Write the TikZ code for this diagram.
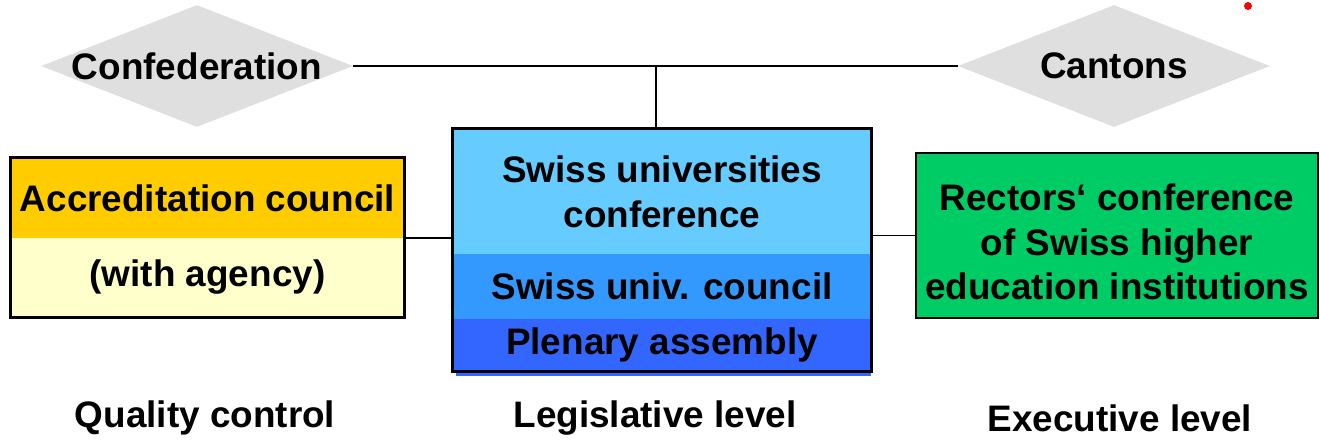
\documentclass[tikz,border=0pt]{standalone}
\usepackage{fontspec}
\setmainfont{Liberation Sans}
\usepackage{tikz}
\usetikzlibrary{shapes,positioning}

\definecolor{LandGray}{HTML}{DFDFDF}
\definecolor{AccrTop}{HTML}{FFCC00}
\definecolor{AccrLow}{HTML}{FFFFCC}
\definecolor{SukTop}{HTML}{66CCFF}
\definecolor{SukMid}{HTML}{3399FF}
\definecolor{SukLow}{HTML}{3366FF}
\definecolor{CrusGreen}{HTML}{00CC66}

\begin{document}
\begin{tikzpicture}[x=0.02cm, y=-0.02cm, font=\bfseries\fontsize{21}{25.5}\selectfont]
			\tikzstyle{Level}	= [diamond, fill=LandGray, inner sep=0pt, minimum width=6.24cm, minimum height=2.44cm]
			\tikzstyle{Band}	= [rectangle, inner sep=0pt, align=center]
			\tikzstyle{Frame}	= [draw=black, line width=1.6pt]
			\tikzstyle{Link}	= [black, line width=1pt]
			
			\useasboundingbox (0,0) rectangle (1320,440);
			
			\node (confed) at (197,66) [Level] {};
			\node (confedText) at (confed) {Confederation};
			\node (cantons) at (1114,66) [Level] {};
			\node (cantonsText) at (cantons) {Cantons};
			\node (dot) at (1248,6) [circle, fill=red, inner sep=0pt, minimum size=0.16cm] {};
			
			\node (accr) at (207.5,198) [Band, fill=AccrTop, minimum width=7.86cm, minimum height=1.6cm] {Accreditation council};
			\node (agency) at (207.5,277.5) [Band, fill=AccrLow, minimum width=7.86cm, minimum height=1.58cm] {(with agency)};
			\draw [Frame] (accr.north west) rectangle (agency.south east);
			
			\fill [SukLow] (456,371) rectangle (871,376);
			\node (suk) at (662,191.5) [Band, fill=SukTop, minimum width=8.36cm, minimum height=2.5cm] {Swiss universities\\conference};
			\node (council) at (662,286.5) [Band, fill=SukMid, minimum width=8.36cm, minimum height=1.3cm] {Swiss univ. council};
			\node (plenary) at (662,345) [Band, fill=SukLow, minimum width=8.36cm, minimum height=1.04cm] {Plenary assembly};
			\draw [Frame] (suk.north west) rectangle (plenary.south east);
			
			\node (crus) at (1117,235.5) [Band, Frame, fill=CrusGreen, minimum width=8.04cm, minimum height=3.3cm] {};
			\node (crusText) at (1117,242) [Band] {Rectors‘ conference\\of Swiss higher\\education institutions};
			
			\coordinate (joint) at (656,66);
			\draw [-] (confed.east) to (cantons.west) [Link];
			\draw [-] (joint) to (joint |- suk.north) [Link];
			\draw [-] (accr.south east) to (accr.south east -| suk.west) [Link];
			\draw [-] (crus.west) to (crus.west -| suk.east) [Link];
			
			\node (quality) at (205,418) {Quality control};
			\node (legis) at (655,418) {Legislative level};
			\node (exec) at (1120,418) {Executive level};
		\end{tikzpicture}
\end{document}
